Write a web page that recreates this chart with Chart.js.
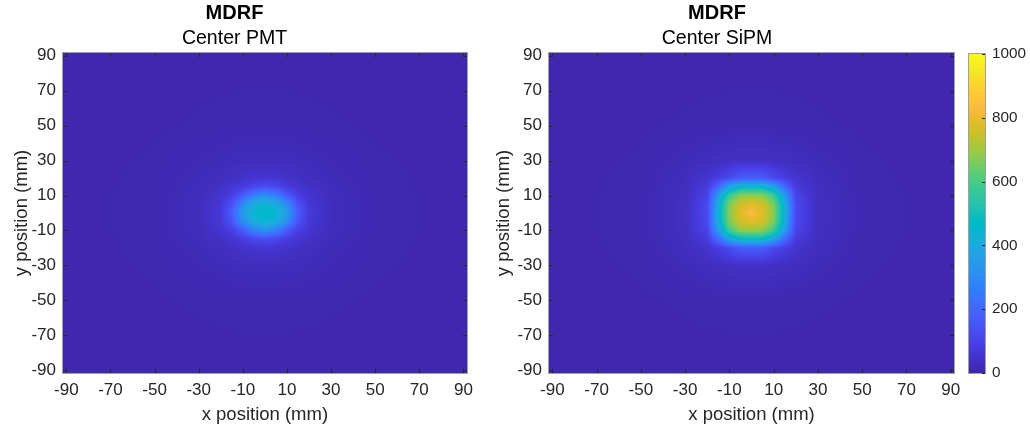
<!DOCTYPE html>
<html>
<head>
<meta charset="utf-8">
<script src="https://cdn.jsdelivr.net/npm/chart.js@4.4.1/dist/chart.umd.min.js"></script>
<style>
  html, body { margin: 0; padding: 0; background: #fff; }
  #wrap { position: relative; width: 1030px; height: 429px; overflow: hidden; }
  #wrap canvas { position: absolute; top: 0; }
</style>
</head>
<body>
<div id="wrap">
  <canvas id="pmt" width="480" height="429" style="left:0px"></canvas>
  <canvas id="sipm" width="550" height="429" style="left:480px"></canvas>
  <canvas id="cbar" width="70" height="429" style="left:960px"></canvas>
</div>
<script>
// sample positions of the response map (mm); rows go from top (y=+91.5) to bottom
const X_NODES = [-91.5, -50, -30, -20, -15, -10, -5, 0, 5, 10, 15, 20, 30, 50, 91.5];
const Y_NODES = [91.5, 50, 30, 20, 15, 10, 5, 0, -5, -10, -15, -20, -30, -50, -91.5];

// detector response, centre PMT
const PMT_ROWS = [
  [6, 6, 6, 6, 6, 6, 6, 6, 6, 6, 6, 6, 6, 6, 6],
  [6, 8, 10, 11, 11, 12, 12, 12, 12, 12, 11, 11, 10, 8, 6],
  [6, 10, 17, 21, 24, 26, 27, 27, 27, 26, 24, 21, 17, 10, 6],
  [6, 11, 21, 30, 38, 47, 55, 60, 55, 47, 38, 30, 21, 11, 6],
  [6, 11, 24, 40, 58, 80, 112, 128, 112, 80, 58, 40, 24, 11, 6],
  [6, 12, 27, 54, 88, 166, 272, 315, 272, 166, 88, 54, 27, 12, 6],
  [6, 12, 28, 66, 143, 302, 413, 441, 413, 302, 143, 66, 28, 12, 6],
  [6, 12, 28, 71, 165, 359, 449, 466, 449, 359, 165, 71, 28, 12, 6],
  [6, 12, 28, 66, 143, 302, 413, 441, 413, 302, 143, 66, 28, 12, 6],
  [6, 12, 27, 54, 88, 166, 272, 315, 272, 166, 88, 54, 27, 12, 6],
  [6, 11, 24, 40, 58, 80, 112, 128, 112, 80, 58, 40, 24, 11, 6],
  [6, 11, 21, 30, 38, 47, 55, 60, 55, 47, 38, 30, 21, 11, 6],
  [6, 10, 17, 21, 24, 26, 27, 27, 27, 26, 24, 21, 17, 10, 6],
  [6, 8, 10, 11, 11, 12, 12, 12, 12, 12, 11, 11, 10, 8, 6],
  [6, 6, 6, 6, 6, 6, 6, 6, 6, 6, 6, 6, 6, 6, 6]
];

// detector response, centre SiPM
const SIPM_ROWS = [
  [6, 6, 6, 6, 6, 6, 6, 6, 6, 6, 6, 6, 6, 6, 6],
  [6, 8, 10, 11, 11, 12, 12, 12, 12, 12, 11, 11, 10, 8, 6],
  [6, 10, 21, 29, 33, 36, 39, 39, 39, 36, 33, 29, 21, 10, 6],
  [6, 11, 28, 54, 82, 120, 165, 174, 165, 120, 82, 54, 28, 11, 6],
  [6, 11, 31, 75, 205, 377, 459, 471, 459, 377, 205, 75, 31, 11, 6],
  [6, 12, 33, 101, 348, 581, 678, 687, 678, 581, 348, 101, 33, 12, 6],
  [6, 12, 34, 113, 417, 662, 760, 788, 760, 662, 417, 113, 34, 12, 6],
  [6, 12, 34, 116, 428, 676, 784, 836, 784, 676, 428, 116, 34, 12, 6],
  [6, 12, 34, 113, 417, 662, 760, 788, 760, 662, 417, 113, 34, 12, 6],
  [6, 12, 33, 101, 348, 581, 678, 687, 678, 581, 348, 101, 33, 12, 6],
  [6, 11, 31, 75, 205, 377, 459, 471, 459, 377, 205, 75, 31, 11, 6],
  [6, 11, 28, 54, 82, 120, 165, 174, 165, 120, 82, 54, 28, 11, 6],
  [6, 10, 21, 29, 33, 36, 39, 39, 39, 36, 33, 29, 21, 10, 6],
  [6, 8, 10, 11, 11, 12, 12, 12, 12, 12, 11, 11, 10, 8, 6],
  [6, 6, 6, 6, 6, 6, 6, 6, 6, 6, 6, 6, 6, 6, 6]
];

const AXIS_TICKS = [-90, -70, -50, -30, -10, 10, 30, 50, 70, 90];
const CBAR_TICKS = [0, 200, 400, 600, 800, 1000];
const C_MIN = 0;
const C_MAX = 1000;
const LIMIT = 91.5;

// parula, 64 steps
const PARULA = [
  [0.2422,0.1504,0.6603],[0.2504,0.1650,0.7076],[0.2578,0.1818,0.7511],[0.2647,0.1978,0.7952],
  [0.2706,0.2147,0.8364],[0.2751,0.2342,0.8710],[0.2783,0.2559,0.8991],[0.2803,0.2782,0.9221],
  [0.2813,0.3006,0.9414],[0.2810,0.3228,0.9579],[0.2795,0.3447,0.9717],[0.2760,0.3667,0.9829],
  [0.2699,0.3892,0.9906],[0.2602,0.4123,0.9952],[0.2440,0.4358,0.9988],[0.2206,0.4603,0.9973],
  [0.1963,0.4847,0.9892],[0.1834,0.5074,0.9798],[0.1786,0.5289,0.9682],[0.1764,0.5499,0.9520],
  [0.1687,0.5703,0.9359],[0.1540,0.5902,0.9218],[0.1460,0.6091,0.9079],[0.1380,0.6276,0.8973],
  [0.1248,0.6459,0.8883],[0.1113,0.6635,0.8763],[0.0952,0.6798,0.8598],[0.0689,0.6948,0.8394],
  [0.0297,0.7082,0.8163],[0.0036,0.7203,0.7917],[0.0067,0.7312,0.7660],[0.0433,0.7411,0.7394],
  [0.0964,0.7500,0.7120],[0.1408,0.7584,0.6842],[0.1717,0.7670,0.6554],[0.1938,0.7758,0.6251],
  [0.2161,0.7843,0.5923],[0.2470,0.7918,0.5567],[0.2906,0.7973,0.5188],[0.3406,0.8008,0.4789],
  [0.3909,0.8029,0.4354],[0.4456,0.8024,0.3909],[0.5044,0.7993,0.3480],[0.5616,0.7942,0.3045],
  [0.6174,0.7876,0.2612],[0.6720,0.7793,0.2227],[0.7242,0.7698,0.1910],[0.7738,0.7598,0.1646],
  [0.8203,0.7498,0.1535],[0.8634,0.7406,0.1596],[0.9035,0.7330,0.1774],[0.9393,0.7288,0.2100],
  [0.9728,0.7298,0.2394],[0.9956,0.7434,0.2371],[0.9970,0.7659,0.2199],[0.9952,0.7893,0.2028],
  [0.9892,0.8136,0.1885],[0.9786,0.8386,0.1766],[0.9676,0.8639,0.1643],[0.9610,0.8890,0.1537],
  [0.9597,0.9135,0.1423],[0.9628,0.9373,0.1265],[0.9691,0.9606,0.1064],[0.9769,0.9839,0.0805]
];

const AXIS_COLOR = '#262626';
Chart.defaults.font.family = '"Liberation Sans", Arial, Helvetica, sans-serif';

function parula(v) {
  const t = Math.min(Math.max((v - C_MIN) / (C_MAX - C_MIN), 0), 1) * (PARULA.length - 1);
  const i = Math.min(Math.floor(t), PARULA.length - 2);
  const f = t - i;
  const a = PARULA[i], b = PARULA[i + 1];
  return [0, 1, 2].map(k => Math.round(255 * (a[k] + (b[k] - a[k]) * f)));
}

function cells(rows) {
  const out = [];
  rows.forEach((row, j) => row.forEach((v, i) => out.push({ x: X_NODES[i], y: Y_NODES[j], v: v })));
  return out;
}

// which pair of nodes a value falls between, and how far along
function bracket(nodes, v) {
  const asc = nodes[0] < nodes[nodes.length - 1];
  let k = 0;
  while (k < nodes.length - 2 && (asc ? v > nodes[k + 1] : v < nodes[k + 1])) k++;
  const t = (v - nodes[k]) / (nodes[k + 1] - nodes[k]);
  return [k, Math.min(Math.max(t, 0), 1)];
}

// shaded map painted under the (invisible) points
const fieldLayer = {
  id: 'fieldLayer',
  beforeDatasetsDraw(chart) {
    const ds = chart.data.datasets[0];
    if (!ds || !ds.data.length) return;
    const pts = ds.data;
    const nx = pts.filter(p => p.y === pts[0].y).length;
    const ny = pts.length / nx;
    const xs = pts.slice(0, nx).map(p => p.x);
    const ys = [];
    for (let j = 0; j < ny; j++) ys.push(pts[j * nx].y);

    const { ctx, chartArea: a, scales } = chart;
    const left = Math.round(a.left), top = Math.round(a.top);
    const w = Math.round(a.right) - left, h = Math.round(a.bottom) - top;
    const img = ctx.createImageData(w, h);
    const cols = [];
    for (let px = 0; px < w; px++) cols.push(bracket(xs, scales.x.getValueForPixel(left + px + 0.5)));
    for (let py = 0; py < h; py++) {
      const [j, ty] = bracket(ys, scales.y.getValueForPixel(top + py + 0.5));
      for (let px = 0; px < w; px++) {
        const [i, tx] = cols[px];
        const v00 = pts[j * nx + i].v, v01 = pts[j * nx + i + 1].v;
        const v10 = pts[(j + 1) * nx + i].v, v11 = pts[(j + 1) * nx + i + 1].v;
        const v = (v00 * (1 - tx) + v01 * tx) * (1 - ty) + (v10 * (1 - tx) + v11 * tx) * ty;
        const c = parula(v);
        const o = (py * w + px) * 4;
        img.data[o] = c[0]; img.data[o + 1] = c[1]; img.data[o + 2] = c[2]; img.data[o + 3] = 255;
      }
    }
    ctx.putImageData(img, left, top);
  }
};

// colour ramp for the colorbar
const colorRamp = {
  id: 'colorRamp',
  beforeDatasetsDraw(chart) {
    const { ctx, chartArea: a, scales } = chart;
    for (let py = Math.round(a.top); py < Math.round(a.bottom); py++) {
      const c = parula(scales.y.getValueForPixel(py + 0.5));
      ctx.fillStyle = 'rgb(' + c.join(',') + ')';
      ctx.fillRect(Math.round(a.left), py, Math.round(a.right) - Math.round(a.left), 1);
    }
  }
};

// box outline and inward tick marks
const frame = {
  id: 'frame',
  afterDatasetsDraw(chart, args, opts) {
    const { ctx, chartArea: a, scales } = chart;
    const l = Math.round(a.left), r = Math.round(a.right), t = Math.round(a.top), b = Math.round(a.bottom);
    const len = opts.len || 4;
    ctx.save();
    ctx.lineWidth = 1;
    ctx.strokeStyle = opts.edge || '#a0a0a0';
    ctx.strokeRect(l - 0.5, t - 0.5, r - l + 1, b - t + 1);
    ctx.strokeStyle = opts.tick || AXIS_COLOR;
    ctx.beginPath();
    if (opts.xMarks && scales.x.options.display) {
      scales.x.ticks.forEach(tk => {
        const px = Math.round(scales.x.getPixelForValue(tk.value)) + 0.5;
        ctx.moveTo(px, t); ctx.lineTo(px, t + len);
        ctx.moveTo(px, b); ctx.lineTo(px, b - len);
      });
    }
    scales.y.ticks.forEach(tk => {
      const py = Math.round(scales.y.getPixelForValue(tk.value)) + 0.5;
      if (opts.leftMarks) { ctx.moveTo(l, py); ctx.lineTo(l + len, py); }
      if (opts.rightMarks) { ctx.moveTo(r, py); ctx.lineTo(r - len, py); }
    });
    ctx.stroke();
    ctx.restore();
  }
};

function heatPanel(id, subtitle, rows, yWidth, padRight, yTitlePad) {
  return new Chart(document.getElementById(id), {
    type: 'scatter',
    data: { datasets: [{ data: cells(rows), pointRadius: 0, pointHoverRadius: 0 }] },
    options: {
      responsive: false,
      animation: false,
      devicePixelRatio: 1,
      events: [],
      layout: { padding: { top: 0, left: 0, bottom: 0, right: padRight } },
      plugins: {
        legend: { display: false },
        tooltip: { enabled: false },
        title: {
          display: true, text: 'MDRF', color: '#000',
          font: { size: 20, weight: 'bold', lineHeight: 1.2 },
          padding: { top: 1, bottom: 0 }
        },
        subtitle: {
          display: true, text: subtitle, color: '#000',
          font: { size: 19.5, weight: 'normal', lineHeight: 1.2 },
          padding: { top: 2, bottom: 2.6 }
        },
        frame: { len: 4, xMarks: true, leftMarks: true, rightMarks: true }
      },
      scales: {
        x: {
          type: 'linear', min: -LIMIT, max: LIMIT,
          afterBuildTicks: s => { s.ticks = AXIS_TICKS.map(value => ({ value })); },
          afterFit: s => { s.height = 56; },
          grid: { display: false, drawTicks: false },
          border: { display: false },
          ticks: { color: AXIS_COLOR, font: { size: 17 }, padding: 7, maxRotation: 0, autoSkip: false, callback: v => String(v) },
          title: { display: true, text: 'x position (mm)', color: AXIS_COLOR, font: { size: 18.5 }, padding: { top: 0, bottom: 2.9 } }
        },
        y: {
          type: 'linear', min: -LIMIT, max: LIMIT,
          afterBuildTicks: s => { s.ticks = AXIS_TICKS.map(value => ({ value })); },
          afterFit: s => { s.width = yWidth; },
          grid: { display: false, drawTicks: false },
          border: { display: false },
          ticks: { color: AXIS_COLOR, font: { size: 17 }, padding: 7, autoSkip: false, callback: v => String(v) },
          title: { display: true, text: 'y position (mm)', color: AXIS_COLOR, font: { size: 18.5 }, padding: { top: yTitlePad, bottom: 0 } }
        }
      }
    },
    plugins: [fieldLayer, frame]
  });
}

heatPanel('pmt', 'Center PMT', PMT_ROWS, 63, 11, 11);
heatPanel('sipm', 'Center SiPM', SIPM_ROWS, 69, 76, 12.9);

new Chart(document.getElementById('cbar'), {
  type: 'scatter',
  data: { datasets: [] },
  options: {
    responsive: false,
    animation: false,
    devicePixelRatio: 1,
    events: [],
    layout: { padding: { top: 54, left: 9, right: 0, bottom: 56 } },
    plugins: {
      legend: { display: false },
      tooltip: { enabled: false },
      frame: { len: 3, xMarks: false, leftMarks: false, rightMarks: true }
    },
    scales: {
      x: { type: 'linear', display: false, min: 0, max: 1 },
      y: {
        type: 'linear', position: 'right', min: C_MIN, max: C_MAX,
        afterBuildTicks: s => { s.ticks = CBAR_TICKS.map(value => ({ value })); },
        afterFit: s => { s.width = 45; },
        grid: { display: false, drawTicks: false },
        border: { display: false },
        ticks: { color: AXIS_COLOR, font: { size: 15.3 }, padding: 7, autoSkip: false, callback: v => String(v) }
      }
    }
  },
  plugins: [colorRamp, frame]
});
</script>
</body>
</html>
